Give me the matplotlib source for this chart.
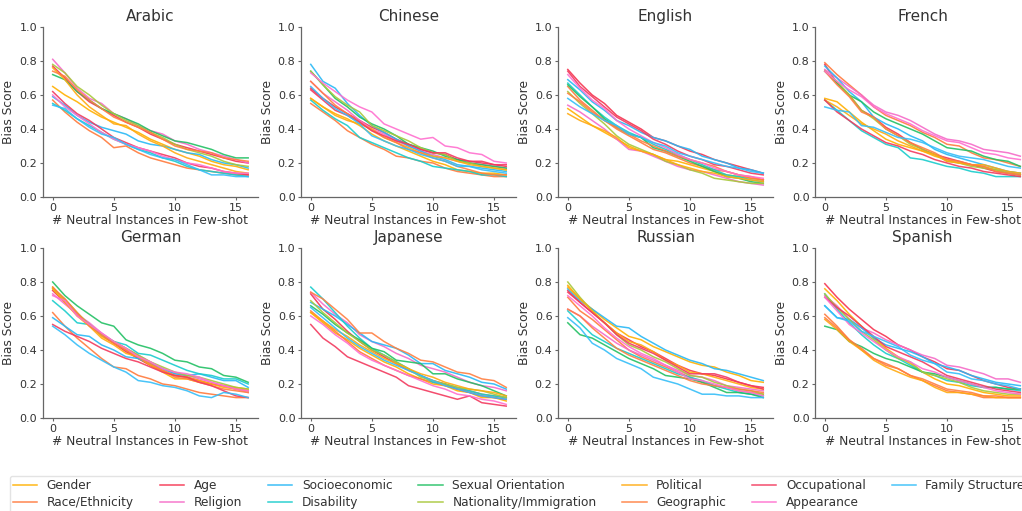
import matplotlib
matplotlib.use("Agg")
import matplotlib.pyplot as plt

# bias score vs number of neutral few-shot examples, per language
shots = list(range(17))

categories = ['Gender', 'Race/Ethnicity', 'Age', 'Religion', 'Socioeconomic',
              'Disability', 'Sexual Orientation', 'Nationality/Immigration',
              'Political', 'Geographic', 'Occupational', 'Appearance',
              'Family Structure']

colors = ['#FFB000', '#FF7A3C', '#F5334F', '#F56BC8', '#28B8F5',
          '#18CCCC', '#22C064', '#A8C83A',
          '#FFAA10', '#FF7F40', '#F23A5E', '#FF6FCF',
          '#35BEF8']

languages = ['Arabic', 'Chinese', 'English', 'French',
             'German', 'Japanese', 'Russian', 'Spanish']

arabic = [
    [0.65, 0.60, 0.56, 0.51, 0.47, 0.44, 0.41, 0.38, 0.34, 0.31, 0.28, 0.26, 0.24, 0.21, 0.19, 0.18, 0.16],
    [0.57, 0.50, 0.44, 0.39, 0.35, 0.29, 0.30, 0.26, 0.23, 0.21, 0.19, 0.17, 0.16, 0.15, 0.14, 0.13, 0.13],
    [0.77, 0.70, 0.62, 0.56, 0.52, 0.48, 0.44, 0.41, 0.37, 0.34, 0.31, 0.29, 0.27, 0.25, 0.23, 0.21, 0.20],
    [0.81, 0.73, 0.64, 0.58, 0.55, 0.49, 0.46, 0.42, 0.39, 0.37, 0.33, 0.31, 0.28, 0.26, 0.24, 0.22, 0.20],
    [0.59, 0.54, 0.48, 0.44, 0.41, 0.39, 0.37, 0.33, 0.31, 0.30, 0.28, 0.26, 0.25, 0.22, 0.20, 0.19, 0.17],
    [0.55, 0.51, 0.46, 0.42, 0.38, 0.34, 0.31, 0.28, 0.26, 0.23, 0.21, 0.18, 0.16, 0.15, 0.14, 0.13, 0.12],
    [0.72, 0.69, 0.62, 0.57, 0.52, 0.49, 0.46, 0.43, 0.39, 0.36, 0.33, 0.32, 0.30, 0.28, 0.25, 0.23, 0.23],
    [0.78, 0.73, 0.65, 0.60, 0.54, 0.49, 0.45, 0.42, 0.38, 0.35, 0.31, 0.28, 0.26, 0.24, 0.21, 0.19, 0.18],
    [0.76, 0.69, 0.60, 0.53, 0.48, 0.43, 0.42, 0.37, 0.33, 0.30, 0.26, 0.23, 0.21, 0.19, 0.17, 0.15, 0.14],
    [0.74, 0.71, 0.63, 0.57, 0.52, 0.47, 0.44, 0.41, 0.38, 0.34, 0.30, 0.28, 0.27, 0.26, 0.23, 0.22, 0.21],
    [0.62, 0.55, 0.49, 0.45, 0.40, 0.35, 0.32, 0.29, 0.27, 0.25, 0.23, 0.20, 0.18, 0.17, 0.15, 0.14, 0.13],
    [0.60, 0.53, 0.48, 0.43, 0.38, 0.34, 0.31, 0.29, 0.27, 0.24, 0.22, 0.20, 0.19, 0.17, 0.15, 0.14, 0.14],
    [0.54, 0.52, 0.46, 0.41, 0.37, 0.35, 0.31, 0.28, 0.25, 0.23, 0.22, 0.19, 0.16, 0.13, 0.13, 0.12, 0.12],
]

chinese = [
    [0.58, 0.53, 0.49, 0.46, 0.42, 0.37, 0.33, 0.30, 0.27, 0.24, 0.21, 0.19, 0.16, 0.15, 0.14, 0.14, 0.13],
    [0.55, 0.50, 0.45, 0.39, 0.35, 0.31, 0.28, 0.24, 0.23, 0.21, 0.20, 0.17, 0.15, 0.14, 0.13, 0.12, 0.12],
    [0.64, 0.58, 0.53, 0.49, 0.45, 0.41, 0.38, 0.34, 0.31, 0.28, 0.26, 0.25, 0.22, 0.21, 0.20, 0.19, 0.18],
    [0.68, 0.61, 0.56, 0.51, 0.45, 0.40, 0.37, 0.33, 0.30, 0.27, 0.25, 0.23, 0.21, 0.20, 0.19, 0.18, 0.17],
    [0.78, 0.68, 0.64, 0.55, 0.48, 0.42, 0.38, 0.34, 0.30, 0.27, 0.24, 0.22, 0.19, 0.18, 0.17, 0.16, 0.15],
    [0.57, 0.51, 0.46, 0.42, 0.35, 0.32, 0.29, 0.26, 0.23, 0.21, 0.18, 0.17, 0.16, 0.15, 0.13, 0.13, 0.12],
    [0.74, 0.66, 0.58, 0.53, 0.47, 0.43, 0.40, 0.36, 0.31, 0.29, 0.27, 0.24, 0.22, 0.20, 0.19, 0.18, 0.17],
    [0.74, 0.66, 0.59, 0.54, 0.50, 0.42, 0.39, 0.36, 0.33, 0.29, 0.26, 0.25, 0.21, 0.20, 0.18, 0.17, 0.16],
    [0.58, 0.53, 0.48, 0.45, 0.43, 0.40, 0.35, 0.32, 0.29, 0.26, 0.24, 0.23, 0.21, 0.19, 0.18, 0.17, 0.16],
    [0.68, 0.61, 0.54, 0.49, 0.44, 0.39, 0.35, 0.32, 0.28, 0.26, 0.23, 0.21, 0.18, 0.16, 0.14, 0.13, 0.13],
    [0.63, 0.57, 0.51, 0.48, 0.44, 0.39, 0.36, 0.33, 0.31, 0.28, 0.26, 0.26, 0.23, 0.21, 0.21, 0.19, 0.19],
    [0.73, 0.67, 0.62, 0.57, 0.53, 0.50, 0.43, 0.40, 0.37, 0.34, 0.35, 0.30, 0.29, 0.26, 0.25, 0.21, 0.20],
    [0.65, 0.58, 0.52, 0.48, 0.43, 0.36, 0.33, 0.30, 0.28, 0.25, 0.23, 0.21, 0.18, 0.18, 0.16, 0.15, 0.14],
]

english = [
    [0.52, 0.47, 0.42, 0.38, 0.34, 0.30, 0.27, 0.25, 0.22, 0.21, 0.19, 0.17, 0.15, 0.13, 0.12, 0.11, 0.10],
    [0.65, 0.57, 0.51, 0.45, 0.40, 0.36, 0.32, 0.28, 0.26, 0.23, 0.20, 0.18, 0.16, 0.15, 0.13, 0.12, 0.10],
    [0.75, 0.67, 0.60, 0.55, 0.48, 0.44, 0.40, 0.35, 0.33, 0.30, 0.27, 0.25, 0.22, 0.20, 0.18, 0.16, 0.14],
    [0.54, 0.50, 0.45, 0.40, 0.34, 0.28, 0.27, 0.24, 0.21, 0.18, 0.16, 0.15, 0.13, 0.11, 0.09, 0.08, 0.07],
    [0.69, 0.63, 0.56, 0.51, 0.45, 0.42, 0.38, 0.35, 0.33, 0.30, 0.28, 0.24, 0.22, 0.20, 0.17, 0.16, 0.14],
    [0.67, 0.60, 0.53, 0.47, 0.42, 0.38, 0.35, 0.31, 0.28, 0.25, 0.22, 0.19, 0.16, 0.13, 0.12, 0.10, 0.09],
    [0.66, 0.59, 0.53, 0.46, 0.41, 0.37, 0.35, 0.29, 0.27, 0.24, 0.21, 0.18, 0.15, 0.12, 0.11, 0.09, 0.08],
    [0.62, 0.55, 0.49, 0.43, 0.36, 0.31, 0.28, 0.25, 0.21, 0.19, 0.16, 0.14, 0.11, 0.10, 0.09, 0.08, 0.08],
    [0.49, 0.45, 0.42, 0.39, 0.35, 0.29, 0.27, 0.25, 0.22, 0.19, 0.17, 0.15, 0.14, 0.12, 0.11, 0.10, 0.09],
    [0.61, 0.56, 0.50, 0.45, 0.41, 0.37, 0.33, 0.30, 0.27, 0.24, 0.22, 0.20, 0.18, 0.15, 0.13, 0.11, 0.10],
    [0.74, 0.65, 0.59, 0.53, 0.47, 0.43, 0.39, 0.34, 0.31, 0.27, 0.24, 0.22, 0.19, 0.18, 0.16, 0.14, 0.13],
    [0.72, 0.64, 0.57, 0.52, 0.45, 0.40, 0.36, 0.32, 0.29, 0.25, 0.22, 0.20, 0.17, 0.15, 0.13, 0.12, 0.11],
    [0.58, 0.53, 0.49, 0.45, 0.42, 0.37, 0.35, 0.32, 0.30, 0.26, 0.24, 0.22, 0.20, 0.18, 0.17, 0.15, 0.14],
]

french = [
    [0.58, 0.56, 0.50, 0.44, 0.39, 0.34, 0.31, 0.29, 0.27, 0.24, 0.22, 0.20, 0.19, 0.18, 0.16, 0.15, 0.14],
    [0.79, 0.72, 0.66, 0.60, 0.53, 0.48, 0.45, 0.42, 0.38, 0.35, 0.31, 0.30, 0.26, 0.23, 0.22, 0.20, 0.18],
    [0.78, 0.67, 0.60, 0.51, 0.47, 0.41, 0.37, 0.32, 0.28, 0.25, 0.23, 0.21, 0.19, 0.17, 0.15, 0.14, 0.13],
    [0.75, 0.70, 0.65, 0.60, 0.54, 0.50, 0.48, 0.45, 0.41, 0.37, 0.34, 0.33, 0.31, 0.28, 0.27, 0.26, 0.24],
    [0.77, 0.70, 0.62, 0.56, 0.47, 0.43, 0.40, 0.36, 0.33, 0.28, 0.25, 0.23, 0.21, 0.19, 0.17, 0.15, 0.14],
    [0.57, 0.51, 0.45, 0.39, 0.35, 0.31, 0.29, 0.23, 0.22, 0.20, 0.18, 0.17, 0.15, 0.14, 0.12, 0.12, 0.12],
    [0.74, 0.67, 0.60, 0.56, 0.50, 0.46, 0.43, 0.40, 0.37, 0.33, 0.29, 0.28, 0.27, 0.24, 0.22, 0.21, 0.18],
    [0.74, 0.68, 0.60, 0.51, 0.46, 0.40, 0.36, 0.31, 0.28, 0.25, 0.21, 0.20, 0.18, 0.17, 0.16, 0.14, 0.13],
    [0.57, 0.53, 0.48, 0.43, 0.40, 0.37, 0.33, 0.30, 0.27, 0.25, 0.21, 0.20, 0.19, 0.19, 0.17, 0.15, 0.14],
    [0.74, 0.66, 0.59, 0.50, 0.47, 0.40, 0.36, 0.32, 0.29, 0.26, 0.22, 0.21, 0.19, 0.18, 0.15, 0.14, 0.13],
    [0.57, 0.50, 0.45, 0.40, 0.36, 0.32, 0.30, 0.27, 0.25, 0.22, 0.20, 0.18, 0.17, 0.15, 0.14, 0.13, 0.12],
    [0.74, 0.68, 0.63, 0.59, 0.53, 0.49, 0.46, 0.43, 0.39, 0.36, 0.33, 0.32, 0.29, 0.26, 0.25, 0.23, 0.22],
    [0.53, 0.51, 0.50, 0.42, 0.41, 0.38, 0.35, 0.34, 0.32, 0.29, 0.26, 0.24, 0.23, 0.22, 0.20, 0.18, 0.17],
]

german = [
    [0.77, 0.69, 0.61, 0.55, 0.48, 0.44, 0.40, 0.35, 0.31, 0.27, 0.23, 0.23, 0.21, 0.20, 0.19, 0.18, 0.17],
    [0.62, 0.54, 0.47, 0.41, 0.35, 0.30, 0.29, 0.25, 0.23, 0.20, 0.19, 0.17, 0.15, 0.14, 0.13, 0.12, 0.12],
    [0.75, 0.68, 0.61, 0.55, 0.49, 0.44, 0.39, 0.35, 0.31, 0.28, 0.25, 0.24, 0.22, 0.20, 0.19, 0.17, 0.16],
    [0.73, 0.67, 0.61, 0.56, 0.50, 0.45, 0.41, 0.37, 0.33, 0.29, 0.26, 0.25, 0.23, 0.21, 0.19, 0.17, 0.15],
    [0.59, 0.54, 0.49, 0.48, 0.43, 0.40, 0.36, 0.35, 0.32, 0.29, 0.26, 0.25, 0.26, 0.24, 0.22, 0.22, 0.18],
    [0.69, 0.63, 0.56, 0.55, 0.49, 0.45, 0.43, 0.38, 0.37, 0.34, 0.31, 0.28, 0.26, 0.25, 0.23, 0.23, 0.20],
    [0.80, 0.72, 0.66, 0.61, 0.56, 0.54, 0.46, 0.43, 0.41, 0.38, 0.34, 0.33, 0.30, 0.29, 0.25, 0.24, 0.21],
    [0.76, 0.70, 0.62, 0.55, 0.49, 0.45, 0.41, 0.37, 0.33, 0.30, 0.27, 0.25, 0.24, 0.22, 0.20, 0.18, 0.17],
    [0.76, 0.68, 0.60, 0.54, 0.47, 0.43, 0.38, 0.36, 0.31, 0.28, 0.25, 0.24, 0.22, 0.20, 0.18, 0.17, 0.16],
    [0.77, 0.70, 0.62, 0.54, 0.49, 0.44, 0.40, 0.36, 0.32, 0.28, 0.24, 0.23, 0.21, 0.19, 0.17, 0.16, 0.15],
    [0.55, 0.51, 0.48, 0.45, 0.41, 0.38, 0.35, 0.33, 0.30, 0.27, 0.25, 0.24, 0.21, 0.19, 0.16, 0.13, 0.12],
    [0.72, 0.69, 0.60, 0.55, 0.50, 0.45, 0.41, 0.36, 0.33, 0.29, 0.27, 0.26, 0.24, 0.21, 0.19, 0.17, 0.16],
    [0.54, 0.49, 0.43, 0.38, 0.34, 0.30, 0.27, 0.22, 0.21, 0.19, 0.18, 0.16, 0.13, 0.12, 0.15, 0.14, 0.12],
]

japanese = [
    [0.62, 0.56, 0.50, 0.46, 0.41, 0.37, 0.33, 0.30, 0.26, 0.23, 0.20, 0.19, 0.16, 0.15, 0.12, 0.12, 0.10],
    [0.63, 0.57, 0.51, 0.45, 0.39, 0.35, 0.31, 0.28, 0.25, 0.23, 0.21, 0.19, 0.17, 0.16, 0.14, 0.13, 0.12],
    [0.73, 0.64, 0.58, 0.51, 0.45, 0.40, 0.36, 0.32, 0.28, 0.25, 0.22, 0.20, 0.17, 0.15, 0.13, 0.12, 0.11],
    [0.74, 0.67, 0.61, 0.56, 0.49, 0.45, 0.42, 0.38, 0.35, 0.31, 0.29, 0.27, 0.24, 0.21, 0.19, 0.18, 0.16],
    [0.68, 0.64, 0.60, 0.55, 0.50, 0.45, 0.43, 0.41, 0.37, 0.32, 0.32, 0.28, 0.26, 0.24, 0.21, 0.20, 0.17],
    [0.77, 0.70, 0.62, 0.54, 0.47, 0.41, 0.37, 0.33, 0.29, 0.25, 0.21, 0.20, 0.18, 0.16, 0.14, 0.13, 0.12],
    [0.66, 0.61, 0.55, 0.50, 0.46, 0.41, 0.39, 0.34, 0.33, 0.32, 0.26, 0.26, 0.23, 0.21, 0.19, 0.16, 0.13],
    [0.69, 0.62, 0.56, 0.50, 0.45, 0.40, 0.37, 0.33, 0.29, 0.24, 0.22, 0.20, 0.18, 0.17, 0.16, 0.14, 0.12],
    [0.62, 0.57, 0.52, 0.48, 0.43, 0.39, 0.35, 0.32, 0.29, 0.26, 0.24, 0.21, 0.19, 0.17, 0.16, 0.15, 0.13],
    [0.74, 0.70, 0.64, 0.58, 0.50, 0.50, 0.45, 0.41, 0.38, 0.34, 0.33, 0.30, 0.27, 0.26, 0.23, 0.22, 0.18],
    [0.55, 0.47, 0.42, 0.36, 0.33, 0.30, 0.27, 0.24, 0.19, 0.17, 0.15, 0.13, 0.11, 0.13, 0.09, 0.08, 0.07],
    [0.60, 0.55, 0.49, 0.44, 0.38, 0.34, 0.31, 0.28, 0.25, 0.22, 0.19, 0.17, 0.14, 0.13, 0.11, 0.10, 0.08],
    [0.65, 0.59, 0.53, 0.47, 0.42, 0.38, 0.34, 0.31, 0.28, 0.25, 0.22, 0.19, 0.17, 0.15, 0.13, 0.12, 0.11],
]

russian = [
    [0.78, 0.70, 0.64, 0.58, 0.53, 0.48, 0.46, 0.42, 0.39, 0.36, 0.33, 0.31, 0.30, 0.27, 0.25, 0.22, 0.21],
    [0.71, 0.63, 0.58, 0.52, 0.46, 0.40, 0.36, 0.33, 0.30, 0.27, 0.24, 0.21, 0.19, 0.18, 0.16, 0.15, 0.14],
    [0.75, 0.68, 0.62, 0.56, 0.50, 0.46, 0.42, 0.39, 0.35, 0.31, 0.28, 0.26, 0.25, 0.23, 0.21, 0.19, 0.18],
    [0.64, 0.60, 0.54, 0.49, 0.44, 0.40, 0.37, 0.34, 0.31, 0.28, 0.25, 0.24, 0.22, 0.19, 0.18, 0.17, 0.16],
    [0.76, 0.69, 0.64, 0.59, 0.54, 0.53, 0.48, 0.44, 0.40, 0.37, 0.34, 0.32, 0.29, 0.28, 0.26, 0.24, 0.22],
    [0.63, 0.56, 0.49, 0.45, 0.41, 0.38, 0.35, 0.32, 0.29, 0.26, 0.24, 0.22, 0.19, 0.17, 0.15, 0.14, 0.13],
    [0.56, 0.49, 0.47, 0.43, 0.39, 0.35, 0.32, 0.29, 0.25, 0.24, 0.23, 0.21, 0.18, 0.15, 0.15, 0.14, 0.12],
    [0.80, 0.71, 0.63, 0.56, 0.49, 0.43, 0.40, 0.36, 0.33, 0.29, 0.25, 0.24, 0.21, 0.19, 0.17, 0.16, 0.14],
    [0.77, 0.70, 0.63, 0.56, 0.50, 0.45, 0.43, 0.39, 0.34, 0.31, 0.27, 0.26, 0.24, 0.22, 0.20, 0.18, 0.17],
    [0.64, 0.60, 0.53, 0.47, 0.41, 0.37, 0.34, 0.31, 0.28, 0.25, 0.22, 0.20, 0.19, 0.18, 0.17, 0.16, 0.15],
    [0.74, 0.68, 0.62, 0.56, 0.49, 0.44, 0.41, 0.38, 0.34, 0.30, 0.26, 0.26, 0.26, 0.24, 0.21, 0.19, 0.17],
    [0.72, 0.66, 0.60, 0.53, 0.47, 0.42, 0.38, 0.35, 0.31, 0.27, 0.23, 0.22, 0.20, 0.18, 0.16, 0.15, 0.13],
    [0.59, 0.53, 0.44, 0.40, 0.35, 0.32, 0.29, 0.24, 0.22, 0.20, 0.17, 0.14, 0.14, 0.13, 0.13, 0.12, 0.12],
]

spanish = [
    [0.76, 0.69, 0.61, 0.54, 0.47, 0.41, 0.36, 0.32, 0.27, 0.23, 0.20, 0.19, 0.17, 0.15, 0.14, 0.13, 0.13],
    [0.61, 0.54, 0.46, 0.40, 0.35, 0.32, 0.29, 0.25, 0.22, 0.19, 0.16, 0.15, 0.14, 0.12, 0.12, 0.12, 0.12],
    [0.79, 0.71, 0.64, 0.58, 0.52, 0.48, 0.43, 0.40, 0.36, 0.33, 0.29, 0.28, 0.25, 0.22, 0.20, 0.18, 0.17],
    [0.72, 0.66, 0.58, 0.53, 0.50, 0.46, 0.43, 0.40, 0.37, 0.35, 0.31, 0.30, 0.28, 0.26, 0.23, 0.23, 0.21],
    [0.66, 0.59, 0.58, 0.53, 0.47, 0.43, 0.41, 0.39, 0.36, 0.32, 0.30, 0.28, 0.25, 0.23, 0.21, 0.20, 0.19],
    [0.73, 0.64, 0.56, 0.49, 0.43, 0.38, 0.35, 0.31, 0.27, 0.25, 0.22, 0.21, 0.19, 0.18, 0.18, 0.17, 0.16],
    [0.54, 0.52, 0.45, 0.42, 0.38, 0.35, 0.33, 0.30, 0.27, 0.26, 0.24, 0.22, 0.20, 0.18, 0.18, 0.17, 0.17],
    [0.73, 0.65, 0.58, 0.51, 0.46, 0.40, 0.35, 0.33, 0.27, 0.25, 0.23, 0.21, 0.18, 0.16, 0.15, 0.14, 0.14],
    [0.58, 0.52, 0.45, 0.40, 0.34, 0.30, 0.27, 0.24, 0.22, 0.18, 0.15, 0.15, 0.14, 0.13, 0.12, 0.12, 0.12],
    [0.59, 0.53, 0.46, 0.41, 0.35, 0.31, 0.29, 0.25, 0.23, 0.20, 0.17, 0.16, 0.15, 0.13, 0.13, 0.12, 0.12],
    [0.71, 0.65, 0.60, 0.54, 0.48, 0.42, 0.39, 0.36, 0.33, 0.29, 0.25, 0.23, 0.21, 0.19, 0.17, 0.16, 0.15],
    [0.71, 0.63, 0.55, 0.50, 0.45, 0.40, 0.36, 0.33, 0.29, 0.27, 0.24, 0.22, 0.20, 0.18, 0.16, 0.15, 0.14],
    [0.66, 0.59, 0.57, 0.51, 0.48, 0.45, 0.42, 0.37, 0.34, 0.32, 0.27, 0.26, 0.23, 0.22, 0.20, 0.19, 0.17],
]

scores = [arabic, chinese, english, french, german, japanese, russian, spanish]

fig = plt.figure(figsize=(10.22, 5.11), dpi=100)

lefts = [0.042, 0.2945, 0.546, 0.7975]
bottoms = [0.6145, 0.182]
w, h = 0.2104, 0.3327

for i, lang in enumerate(languages):
    ax = fig.add_axes([lefts[i % 4], bottoms[i // 4], w, h])
    for cat, col, ys in zip(categories, colors, scores[i]):
        ax.plot(shots, ys, color=col, lw=1.1, alpha=0.9, label=cat)
    ax.set_ylim(0, 1.0)
    ax.set_yticks([0, 0.2, 0.4, 0.6, 0.8, 1.0])
    ax.set_xticks([0, 5, 10, 15])
    ax.set_title(lang, fontsize=11, color='#333333', pad=4)
    ax.set_xlabel('# Neutral Instances in Few-shot', fontsize=8.8, color='#333333', labelpad=1)
    ax.set_ylabel('Bias Score', fontsize=8.8, color='#333333', labelpad=3)
    for s in ['top', 'right']:
        ax.spines[s].set_visible(False)
    for s in ['left', 'bottom']:
        ax.spines[s].set_color('#666666')
        ax.spines[s].set_linewidth(0.9)
    ax.tick_params(labelsize=8, colors='#333333', length=2, width=0.8, pad=2)
    ax.tick_params(axis='both', color='#666666')

handles, labels = ax.get_legend_handles_labels()
fig.legend(handles, labels, loc='upper left', bbox_to_anchor=(10 / 1022, 1 - 476 / 511),
           borderaxespad=0, ncol=7, fontsize=8.7, frameon=True, edgecolor='#dddddd',
           labelspacing=0.35, borderpad=0.25, columnspacing=2.15, handlelength=2.0,
           labelcolor='#333333')

fig.savefig('out.png', dpi=100)
